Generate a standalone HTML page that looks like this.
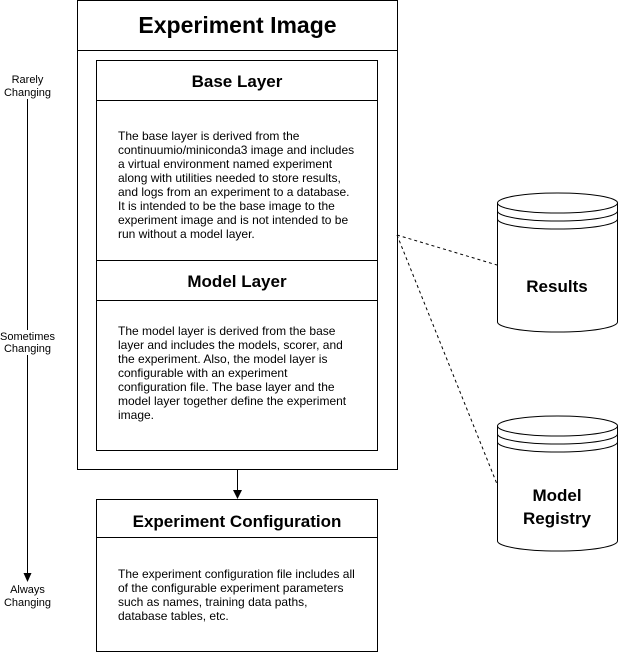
<!DOCTYPE html>
<html><head><meta charset="utf-8"><style>
html,body{margin:0;padding:0;background:#fff}
svg{display:block}
text{font-family:"Liberation Sans",Arial,sans-serif;fill:#000}
.b{font-size:12px}
.s{font-size:11px}
</style></head><body>
<svg width="618" height="652" viewBox="0 0 618 652" xmlns="http://www.w3.org/2000/svg">
<g fill="none" stroke="#000" stroke-width="1">
<rect x="77.5" y="0.5" width="320" height="469"/>
<line x1="77.5" y1="50.5" x2="397.5" y2="50.5"/>
<rect x="96.5" y="60.5" width="281" height="200"/>
<line x1="96.5" y1="100.5" x2="377.5" y2="100.5"/>
<rect x="96.5" y="260.5" width="281" height="190"/>
<line x1="96.5" y1="300.5" x2="377.5" y2="300.5"/>
<rect x="96.5" y="499.5" width="281" height="152"/>
<line x1="96.5" y1="537.5" x2="377.5" y2="537.5"/>
<line x1="237.5" y1="469.5" x2="237.5" y2="492"/>
<line x1="27.5" y1="99" x2="27.5" y2="330"/>
<line x1="27.5" y1="355" x2="27.5" y2="574"/>
<line x1="397" y1="235" x2="497" y2="265" stroke-dasharray="3,3"/>
<line x1="397" y1="235" x2="497" y2="484" stroke-dasharray="3,3"/>
<path d="M497.5,203 A60,10 0 0 1 617.5,203 L617.5,322 A60,10 0 0 1 497.5,322 Z" fill="#fff"/>
<path d="M497.5,203 A60,10 0 0 0 617.5,203 M497.5,211 A60,10 0 0 0 617.5,211 M497.5,219 A60,10 0 0 0 617.5,219"/>
<path d="M497.5,426 A60,10 0 0 1 617.5,426 L617.5,541 A60,10 0 0 1 497.5,541 Z" fill="#fff"/>
<path d="M497.5,426 A60,10 0 0 0 617.5,426 M497.5,434 A60,10 0 0 0 617.5,434 M497.5,442 A60,10 0 0 0 617.5,442"/>
</g>
<path d="M233,490 L237.5,499 L242,490 Z" fill="#000"/>
<path d="M23.5,573 L27.5,582 L31.5,573 Z" fill="#000"/>
<text x="237.5" y="33" text-anchor="middle" font-size="23" font-weight="bold">Experiment Image</text>
<text x="237" y="87" text-anchor="middle" font-size="17" font-weight="bold">Base Layer</text>
<text x="237" y="287" text-anchor="middle" font-size="17" font-weight="bold">Model Layer</text>
<text x="237" y="527" text-anchor="middle" font-size="17" font-weight="bold">Experiment Configuration</text>
<g class="b">
<text x="118" y="140">The base layer is derived from the</text>
<text x="118" y="154">continuumio/miniconda3 image and includes</text>
<text x="118" y="168">a virtual environment named experiment</text>
<text x="118" y="182">along with utilities needed to store results,</text>
<text x="118" y="196">and logs from an experiment to a database.</text>
<text x="118" y="210">It is intended to be the base image to the</text>
<text x="118" y="224">experiment image and is not intended to be</text>
<text x="118" y="238">run without a model layer.</text>
<text x="118" y="335">The model layer is derived from the base</text>
<text x="118" y="349">layer and includes the models, scorer, and</text>
<text x="118" y="363">the experiment. Also, the model layer is</text>
<text x="118" y="377">configurable with an experiment</text>
<text x="118" y="391">configuration file. The base layer and the</text>
<text x="118" y="405">model layer together define the experiment</text>
<text x="118" y="419">image.</text>
<text x="118" y="578">The experiment configuration file includes all</text>
<text x="118" y="592">of the configurable experiment parameters</text>
<text x="118" y="606">such as names, training data paths,</text>
<text x="118" y="620">database tables, etc.</text>
</g>
<g class="s" text-anchor="middle">
<text x="27.5" y="83">Rarely</text>
<text x="27.5" y="96">Changing</text>
<text x="27.5" y="340">Sometimes</text>
<text x="27.5" y="352">Changing</text>
<text x="27.5" y="593">Always</text>
<text x="27.5" y="606">Changing</text>
</g>
<g text-anchor="middle" font-size="17" font-weight="bold">
<text x="557" y="292">Results</text>
<text x="557" y="501">Model</text>
<text x="557" y="524">Registry</text>
</g>
</svg>
</body></html>
